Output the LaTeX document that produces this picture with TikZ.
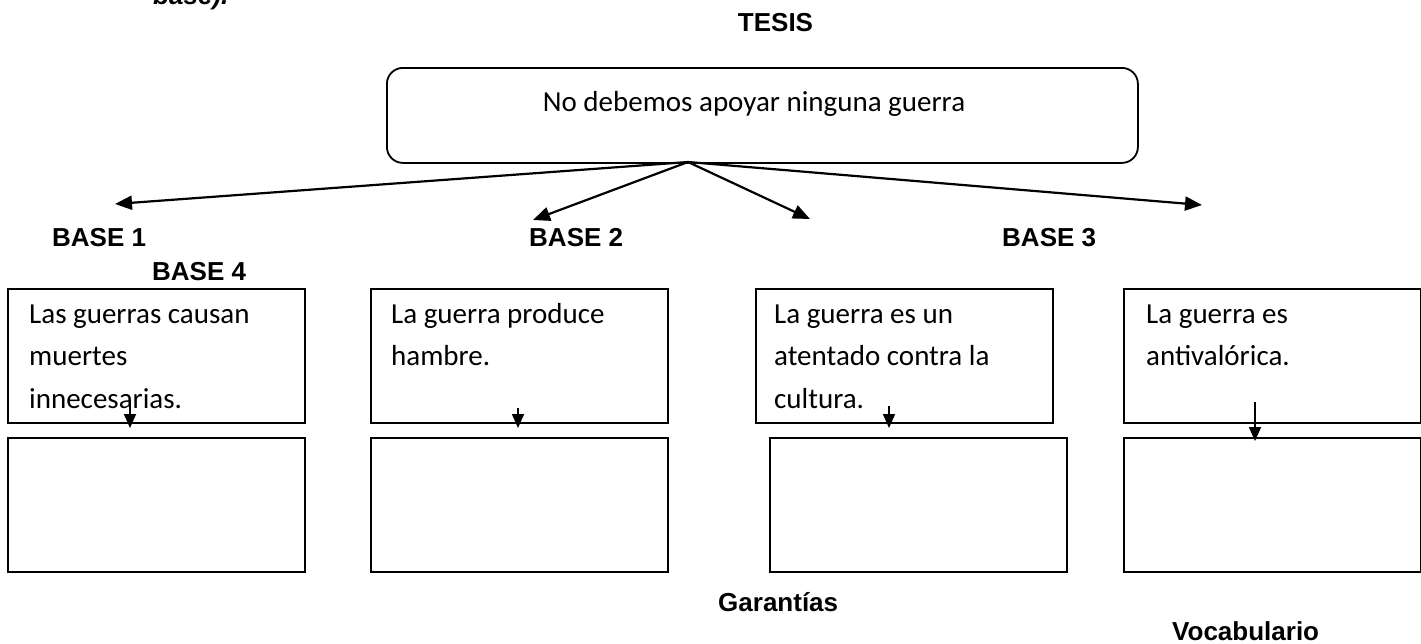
\documentclass[tikz,border=0pt]{standalone}
\usepackage{fontspec}
\setmainfont{Carlito}
\newfontfamily\arial{Liberation Sans}
\usetikzlibrary{arrows.meta}

\tikzset{
  etiqueta/.style={font={\arial\bfseries\fontsize{26}{30}\selectfont}, inner sep=0pt, anchor=base west},
  texto/.style={font={\fontsize{29}{42.5}\selectfont}, inner sep=0pt, anchor=base west, align=left},
  caja/.style={draw, line width=1.8pt, inner sep=0pt, anchor=north west, minimum width=297pt, minimum height=134pt},
  flecha/.style={line width=2.2pt, -{Triangle[length=17pt,width=14pt]}},
  flechita/.style={line width=1.8pt, -{Triangle[length=14pt,width=12pt]}}
}

\begin{document}
\begin{tikzpicture}[x=1pt, y=-1pt]
\useasboundingbox (0,0) rectangle (1421,643);

% texto cortado arriba
\node[etiqueta] (corte) at (153,4) {\itshape base).};
\node[etiqueta, anchor=base] (tesis) at (775.5,31) {TESIS};

% caja de la tesis
\node[draw, line width=1.8pt, rounded corners=16pt, anchor=north west,
      minimum width=751pt, minimum height=95pt] (tesisbox) at (386,67) {};
\node[texto, anchor=base] (tesistxt) at (754,111) {No debemos apoyar ninguna guerra};

% flechas hacia las bases
\coordinate (apex) at (688,162);
\coordinate (p1) at (115,204);
\coordinate (p2) at (533,220);
\coordinate (p3) at (810,219);
\coordinate (p4) at (1202,205);
\foreach \p in {p1,p2,p3,p4}
  \draw[flecha] (apex) -- (\p);

\node[etiqueta] (base1) at (52,246) {BASE 1};
\node[etiqueta] (base2) at (529,246) {BASE 2};
\node[etiqueta] (base3) at (1002,246) {BASE 3};
\node[etiqueta] (base4) at (152,280) {BASE 4};

% cajas de arriba
\node[caja] (b1) at (7,288) {};
\node[caja] (b2) at (370,288) {};
\node[caja] (b3) at (755,288) {};
\node[caja] (b4) at (1123,288) {};

% el ancla base cae en la ultima linea
\node[texto] (t1) at (29,408) {Las guerras causan\\muertes\\innecesarias.};
\node[texto] (t2) at (391,365.5) {La guerra produce\\hambre.};
\node[texto] (t3) at (774,408) {La guerra es un\\atentado contra la\\cultura.};
\node[texto] (t4) at (1146,365.5) {La guerra es\\antival\'orica.};

% cajas de abajo
\node[caja] (g1) at (7,437) {};
\node[caja] (g2) at (370,437) {};
\node[caja] (g3) at (769,437) {};
\node[caja] (g4) at (1123,437) {};

% flechitas
\coordinate (s1) at (130,400); \coordinate (e1) at (130,428);
\coordinate (s2) at (518,408); \coordinate (e2) at (518,428);
\coordinate (s3) at (889,406); \coordinate (e3) at (889,428);
\coordinate (s4) at (1255,402); \coordinate (e4) at (1255,441);
\foreach \i in {1,...,4}
  \draw[flechita] (s\i) -- (e\i);

\node[etiqueta] (garantias) at (718,611) {Garant\'ias};
\node[etiqueta] (vocab) at (1172,640) {Vocabulario};

\end{tikzpicture}
\end{document}
